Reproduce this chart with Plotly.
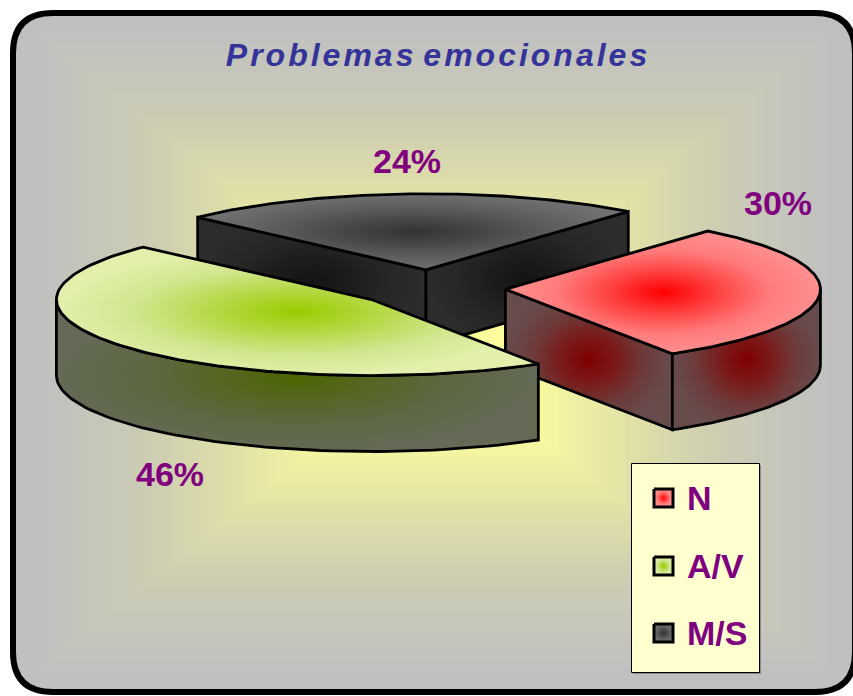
import numpy as np
import plotly.graph_objects as go

# ---- data -------------------------------------------------------------
categories = ["N", "A/V", "M/S"]
values = [30, 46, 24]
title_text = "Problemas emocionales"

# ---- style ------------------------------------------------------------
top_scales = {
    "N": ["#ff0000", "#ff4040", "#ff7a7a", "#ff9090"],
    "A/V": ["#99cc00", "#b4d844", "#d0e68c", "#e2f0ac"],
    "M/S": ["#333333", "#484848", "#5e5e5e", "#707070"],
}
wall_scales = {
    "N": ["#800000", "#7a1a1a", "#6e3a3a", "#684c4c"],
    "A/V": ["#4d6600", "#556624", "#5e6844", "#646a56"],
    "M/S": ["#141414", "#1c1c1c", "#262626", "#2c2c2c"],
}
label_pos = {"N": (778, 203), "A/V": (170, 474), "M/S": (407, 161)}
legend_rows = {"N": 498, "A/V": 566, "M/S": 633}
PURPLE = "#800080"
FONT = "Liberation Sans"
CX, CY = 430, 288          # pie centre, px
RX, RY = 315, 76           # ellipse radii
EXPLODE = 0.24
DEPTH = 76
START = 50                 # degrees; slices run clockwise from here


def scale(cols):
    return [[i / (len(cols) - 1), c] for i, c in enumerate(cols)]


def pt(c, a, dy=0):
    r = np.radians(a)
    return c[0] + RX * np.cos(r), c[1] - RY * np.sin(r) + dy


def poly(xs, ys, cols, width=2.8):
    return go.Scatter(
        x=list(xs) + [xs[0]], y=list(ys) + [ys[0]], mode="lines", fill="toself",
        fillgradient=dict(type="radial", colorscale=scale(cols)),
        line=dict(color="black", width=width), hoverinfo="skip", showlegend=False,
    )


# slice angle ranges from the values
total = sum(values)
angles = {}
a = START
for name, v in zip(categories, values):
    sweep = 360 * v / total
    angles[name] = (a - sweep, a)
    a -= sweep

fig = go.Figure()

for name in ["M/S", "N", "A/V"]:          # back-to-front
    a0, a1 = angles[name]
    mid = np.radians((a0 + a1) / 2)
    c = (CX + EXPLODE * RX * np.cos(mid), CY - EXPLODE * RY * np.sin(mid))
    # flat side faces
    for edge, normal in ((a0, a0 - 90), (a1, a1 + 90)):
        if np.sin(np.radians(normal)) < 0:
            ex, ey = pt(c, edge)
            fig.add_trace(poly([c[0], ex, ex, c[0]],
                               [c[1], ey, ey + DEPTH, c[1] + DEPTH],
                               wall_scales[name]))
    # curved front face: the part of the arc with sin < 0
    s, e = max(a0, -180), min(a1, 0)
    if e > s:
        t = np.linspace(s, e, 60)
        upper = [pt(c, x) for x in t]
        lower = [pt(c, x, DEPTH) for x in t[::-1]]
        pts = upper + lower
        fig.add_trace(poly([p[0] for p in pts], [p[1] for p in pts], wall_scales[name]))
    # top face
    t = np.linspace(a0, a1, 120)
    arc = [pt(c, x) for x in t]
    fig.add_trace(poly([c[0]] + [p[0] for p in arc], [c[1]] + [p[1] for p in arc], top_scales[name]))

# legend swatches
for name in categories:
    y = legend_rows[name]
    fig.add_trace(poly([654, 673, 673, 654], [y - 9, y - 9, y + 9, y + 9], top_scales[name], 3))

# panel background: rectangular path gradient built from nested rectangles
shapes = [dict(type="path", layer="below",
               path="M 53 13 L 815 13 Q 855 13 855 53 L 855 652 Q 855 692 815 692 "
                    "L 53 692 Q 13 692 13 652 L 13 53 Q 13 13 53 13 Z",
               fillcolor="#c0c0c0", line=dict(color="black", width=6))]
gx, gy, hw, hh = 434, 352, 418, 336
stops_t = [0.0, 0.25, 0.5, 0.7, 0.95, 1.0]
stops_c = [(255, 255, 153), (250, 250, 160), (222, 222, 168), (204, 204, 180), (192, 192, 192), (192, 192, 192)]
for t in np.linspace(0.95, 0.0, 90):
    col = [int(round(np.interp(t, stops_t, [c[i] for c in stops_c]))) for i in range(3)]
    shapes.append(dict(type="rect", layer="below", x0=gx - hw * t, x1=gx + hw * t,
                       y0=gy - hh * t, y1=gy + hh * t, line=dict(width=0),
                       fillcolor="rgb(%d,%d,%d)" % tuple(col)))
# legend box
shapes.append(dict(type="rect", layer="below", x0=633, x1=761, y0=465, y1=674,
                   fillcolor="#8a8a8a", line=dict(width=0)))
shapes.append(dict(type="rect", layer="below", x0=631.5, x1=759.5, y0=463.5, y1=672.5,
                   fillcolor="#ffffd0", line=dict(color="black", width=1)))

annotations = []
for name, v in zip(categories, values):
    x, y = label_pos[name]
    annotations.append(dict(x=x, y=y, text=f"{v}%", showarrow=False, xref="x", yref="y",
                            font=dict(family=FONT, size=34, color=PURPLE, weight="bold")))
    annotations.append(dict(x=685, y=legend_rows[name], text=name, showarrow=False, xref="x", yref="y",
                            xanchor="left", font=dict(family=FONT, size=34, color=PURPLE, weight="bold")))

fig.update_layout(
    width=853, height=696, margin=dict(l=0, r=0, t=0, b=0),
    paper_bgcolor="white", plot_bgcolor="rgba(0,0,0,0)", showlegend=False,
    xaxis=dict(range=[0, 853], visible=False, fixedrange=True),
    yaxis=dict(range=[696, 0], visible=False, fixedrange=True),
    title=dict(text=title_text, x=438 / 853, xanchor="center", xref="paper",
               y=1 - 55 / 696, yanchor="middle", yref="paper",
               font=dict(family=FONT, size=32, color="#333399", weight="bold", style="italic")),
    shapes=shapes, annotations=annotations,
)

post = """
document.body.style.margin='0';
document.querySelectorAll('.gtitle').forEach(function(t){
  t.style.letterSpacing='3px'; t.style.wordSpacing='-5px';
});
"""
fig.write_html("out.html", post_script=post, config={"displayModeBar": False})
